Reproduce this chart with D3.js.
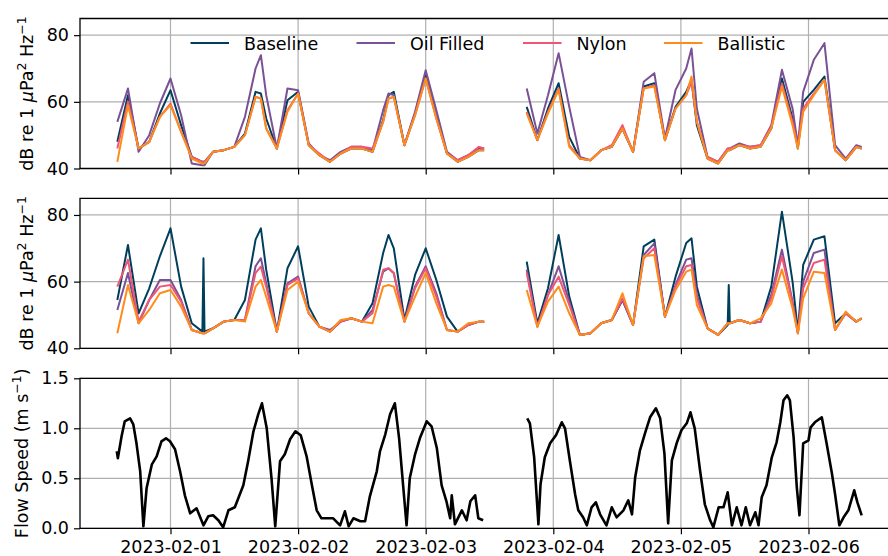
<!DOCTYPE html>
<html>
<head>
<meta charset="utf-8">
<script src="https://cdn.jsdelivr.net/npm/d3@7"></script>
<style>
body { margin: 0; background: #fff; }
svg { display: block; }
text { font-family: "DejaVu Sans", sans-serif; fill: #000; }
</style>
</head>
<body>
<script>
(function(){
'use strict';

// tick labels
var dayTicks = ['2023-02-01', '2023-02-02', '2023-02-03', '2023-02-04', '2023-02-05', '2023-02-06'];
var dbTicks = [40, 60, 80];
var flowTicks = [0, 0.5, 1.0, 1.5];

var seriesNames = ['Baseline', 'Oil Filled', 'Nylon', 'Ballistic'];

// hours after 2023-02-01 00:00 (null row = recording gap)
var dbHours = [-10, -8, -6, -4, -2, 0, 2, 4, 6, 6.2, 6.4, 8, 10, 12, 14, 16, 17, 18, 20, 22, 24, 26, 28, 30, 32, 34, 36, 38, 40, 41, 42, 44, 46, 48, 50, 52, 54, 56, 58, 59,
	63,
	67, 69, 71, 73, 75, 77, 79, 81, 83, 85, 87, 89, 91, 93, 95, 97, 98, 99, 101, 103, 104.8, 105, 105.2, 107, 109, 111, 113, 115, 117, 118, 119, 121, 123, 125, 127, 129, 130];

// top panel (dB re 1 uPa^2/Hz)
var baseTop = [48, 62, 46, 48, 56.5, 63.5, 53, 43.5, 42, 42, 42, 45, 45.5, 46.5, 50.5, 63, 62.5, 55, 46, 60.5, 63, 47, 44, 42, 44.5, 46, 46, 45, 54.5, 62, 63, 47, 56.5, 68, 55.5, 44.5, 42, 43.5, 45.5, 45.5,
	null,
	58.5, 48.5, 58, 65.6, 49.5, 43, 42.5, 45.5, 46.5, 52, 45, 64.6, 65.6, 48.5, 58.5, 63, 66.6, 53, 43, 41.5, 45.5, 45.5, 45.5, 47, 46, 46.5, 52, 67, 55, 46, 60, 63.6, 67.6, 45.5, 42.5, 46.5, 46];
var oilTop = [54, 64, 45, 50, 59.5, 67, 56, 41.5, 41, 41, 41, 45, 45.5, 46.5, 55.5, 70, 74, 62, 46, 64, 63.5, 47.5, 44, 42.5, 45, 46.5, 46.5, 45.5, 57.5, 62.5, 62, 47, 57, 69.5, 57.5, 45, 42.5, 44, 46, 46,
	null,
	64, 50.5, 62, 74.6, 58.5, 43.5, 42.5, 45.5, 46.5, 52, 45, 66, 68.6, 49, 63.6, 70, 76, 58, 43.5, 42, 46, 46, 46, 47.5, 46.5, 47, 53, 69.6, 58, 47, 63, 72.6, 77.6, 47, 43, 47, 46.5];
var nylonTop = [46, 60, 46, 48, 55.5, 59.5, 51, 43.5, 42, 42, 42, 45, 45.5, 46.5, 50, 61.5, 61, 52, 46, 57.5, 62.5, 47, 44.5, 42, 44.5, 46.5, 46.5, 46, 54, 61, 61.5, 47, 56, 67, 55, 44.5, 42.5, 44, 46.5, 46,
	null,
	57, 48.5, 57, 64, 47, 43, 42.5, 45.5, 47, 53, 45, 64, 65, 48.5, 58, 62, 66, 54, 43.5, 42, 46, 46, 46, 47, 46.5, 47, 52.5, 65.5, 54, 46.5, 58, 62.5, 66.5, 45.5, 42.5, 46.5, 46];
var ballTop = [42, 59, 46, 48, 55.5, 59, 51, 43, 41.5, 41.5, 41.5, 45, 45.5, 46.5, 50, 61.5, 61, 52, 46, 57, 62.5, 47, 44, 42, 44.5, 46, 46, 45, 54, 61, 61.5, 47, 56, 67, 55, 44.5, 42, 43.5, 45.5, 45.5,
	null,
	56.5, 48.5, 56.5, 63.6, 46.5, 43, 42.5, 45.5, 46.5, 52, 45, 64, 64.6, 48.5, 58, 62, 67.6, 54, 43, 41.5, 45.5, 45.5, 45.5, 47, 46, 46.5, 52, 64.6, 53, 46, 57, 62, 66.6, 45.5, 42.5, 46.5, 46];

// middle panel
var baseMid = [54.5, 71, 50.5, 58, 67.6, 76, 58.5, 47.5, 45, 67, 45, 46, 48, 48.5, 54.5, 72.6, 76, 63.6, 45, 64, 70.6, 52.5, 46.5, 45, 48, 49, 48, 53.5, 68.6, 74, 70, 48.5, 62, 70, 60.5, 49.5, 45, 47, 48, 48,
	null,
	66, 47.5, 58, 74, 55.5, 44, 44.5, 47.5, 48.5, 54.5, 47, 70.6, 72.6, 49.5, 61.5, 71.6, 73, 58.5, 46, 44, 47, 59, 47.5, 48.5, 47.5, 48, 58.5, 81, 60, 45, 65, 72.6, 73.6, 47.5, 50.5, 48, 49];
var oilMid = [51.5, 62.6, 47.5, 54.5, 60.5, 60.5, 54.5, 45.5, 44.5, 44.5, 44.5, 46, 48, 48.5, 48.5, 64.6, 67, 59.5, 45, 59.5, 61.5, 50.5, 46.5, 45.5, 48, 49, 48, 51.5, 63, 64, 62.5, 48, 58.5, 64.6, 56.5, 45.5, 45, 47, 48, 48,
	null,
	63.6, 46.5, 56, 64.6, 54, 44, 44.5, 47.5, 48.5, 54.5, 47, 68, 71.5, 49.5, 59, 66.6, 67, 56, 46, 44, 47.5, 47.5, 47.5, 48.5, 47.5, 48, 56, 69.6, 54, 44.5, 60, 68.6, 69.6, 45.5, 50.5, 48, 49];
var nylonMid = [58.5, 66.6, 48, 54.5, 58.5, 59, 54, 45.5, 44.5, 44.5, 44.5, 46, 48, 48.5, 48.5, 62.6, 64.5, 58.5, 45, 59, 61, 50.5, 46.5, 45, 48, 49, 48, 50.5, 63.6, 64, 62.6, 48, 58, 64, 55.5, 45.5, 45, 47, 48, 48,
	null,
	62.6, 46.5, 56, 61.5, 53, 44, 44.5, 47.5, 48.5, 55, 47, 67, 70, 49.5, 58.5, 64.6, 65, 55, 46, 44, 47.5, 47.5, 47.5, 48.5, 47.5, 48, 55, 67.6, 53.5, 44.5, 58, 65.6, 66.6, 45.5, 50.5, 48, 49];
var ballMid = [44.5, 59, 47.5, 51.5, 56.5, 57.5, 52.5, 45.5, 44.5, 44.5, 44.5, 46, 48, 48.5, 48, 58.5, 60.5, 55.5, 45, 57.5, 60, 50.5, 46.5, 45, 48.5, 49, 48, 47.5, 58.5, 59, 58.5, 48, 55.5, 62.6, 53.5, 45.5, 45, 47.5, 48, 48,
	null,
	57.5, 46.5, 54, 58.5, 50.5, 44, 44.5, 47.5, 48.5, 56.5, 47, 67.6, 68, 49.5, 57.5, 63, 63.6, 53, 46, 44, 47.5, 47.5, 47.5, 48.5, 47.5, 49, 53.5, 63.6, 52, 44.5, 55, 63, 62.6, 45.5, 51, 48, 49];

// bottom panel, flow speed (m/s)
var flowHours = [-10.1, -9.9, -9.2, -8.6, -7.6, -7.0, -6.4, -5.7, -5.1, -4.5, -3.5, -2.6, -1.7, -0.85, -0.1, 0.85, 1.8, 2.7, 3.7, 4.9, 6.2, 7.1, 8.0, 9.0, 9.9, 10.9, 12.1, 13.7, 14.6, 15.6, 16.5, 17.2, 18.1, 19.0, 19.7,
	20.6, 21.5, 22.5, 23.5, 24.5, 25.6, 26.6, 27.5, 28.4, 29.4, 30.6, 31.9, 32.8, 33.5, 34.4, 35.7, 36.6, 37.5, 38.8, 39.4, 40.4, 41.3, 42.2, 43.0, 43.8, 44.4, 45.0, 46.0, 46.9, 48.2, 49.1, 50.1, 51.0, 51.9, 52.6, 52.9, 53.5, 54.8, 55.7, 56.4, 57.3, 57.9, 58.8,
	63,
	67.1, 67.6, 68.4, 69.2, 69.6, 70.4, 71.4, 72.5, 73.6, 74.2, 75.1, 76.1, 76.7, 77.6, 78.3, 79.2, 80.0, 80.8, 82.0, 83.0, 83.9, 85.2, 86.1, 86.8, 87.4, 88.3, 89.3, 90.2, 91.3, 92.1, 92.9, 93.6, 94.3, 95.2, 96.1, 97.1, 97.8, 98.6, 99.6,
	100.5, 101.5, 102.1, 103.1, 104.0, 104.8, 105.6, 106.5, 107.4, 108.2, 109.0, 110.0, 110.6, 111.2, 112.1, 113.1, 114.0, 114.7, 115.3, 116.0, 116.5, 117.2, 117.8, 118.3, 119.0, 120.0, 120.4, 121.2, 122.5, 123.4, 124.4, 125.0, 125.8, 126.6, 127.5, 128.6, 129.2, 130.0];
var flowSpeed = [0.77, 0.70, 0.92, 1.07, 1.10, 1.04, 0.85, 0.57, 0.02, 0.40, 0.64, 0.72, 0.87, 0.90, 0.87, 0.79, 0.57, 0.33, 0.15, 0.20, 0.03, 0.12, 0.13, 0.08, 0.01, 0.18, 0.21, 0.43, 0.67, 0.97, 1.14, 1.25, 1.00, 0.50, 0.02,
	0.67, 0.74, 0.89, 0.97, 0.93, 0.72, 0.43, 0.18, 0.10, 0.10, 0.10, 0.03, 0.17, 0.02, 0.10, 0.07, 0.07, 0.32, 0.57, 0.77, 0.94, 1.14, 1.25, 0.90, 0.40, 0.03, 0.50, 0.74, 0.90, 1.07, 1.02, 0.80, 0.43, 0.27, 0.10, 0.33, 0.04, 0.18, 0.08, 0.27, 0.33, 0.10, 0.08,
	null,
	1.10, 1.05, 0.71, 0.04, 0.44, 0.71, 0.85, 0.93, 1.06, 1.00, 0.68, 0.34, 0.18, 0.11, 0.03, 0.21, 0.26, 0.14, 0.03, 0.21, 0.11, 0.18, 0.28, 0.14, 0.51, 0.78, 0.96, 1.11, 1.20, 1.10, 0.75, 0.05, 0.68, 0.85, 0.98, 1.05, 1.16, 1.00, 0.58,
	0.24, 0.08, 0.01, 0.21, 0.21, 0.36, 0.03, 0.21, 0.03, 0.21, 0.03, 0.16, 0.03, 0.31, 0.43, 0.71, 0.86, 1.06, 1.28, 1.33, 1.28, 0.91, 0.41, 0.13, 0.85, 0.88, 1.01, 1.06, 1.11, 0.85, 0.55, 0.34, 0.03, 0.11, 0.18, 0.38, 0.26, 0.13];

var colors = ['#003f5c', '#7a5195', '#ef5675', '#ff8c1a'];

var width = 888, height = 556;
var left = 80, right = 892;
var panelH = 150;
var tops = [18.5, 198.3, 378.3];

var t0 = Date.UTC(2023, 1, 1);
var dayMs = 864e5;
function toDate(h){ return new Date(t0 + h * 3600e3); }

var parseDay = d3.utcParse('%Y-%m-%d');
var fmtDay = d3.utcFormat('%Y-%m-%d');

var x = d3.scaleUtc()
	.domain([new Date(t0 - 90.5 / 127.6 * dayMs), new Date(t0 + (right - 170.5) / 127.6 * dayMs)])
	.range([left, right]);

var svg = d3.select('body').append('svg')
	.attr('width', width)
	.attr('height', height);

function pairs(hours, vals){
	var out = [];
	for(var i=0; i<hours.length; i++){
		out.push([toDate(hours[i]), vals[i]]);
	}
	return out;
}

function drawPanel(idx, y, ticks, fmt, series, lineW, showDates){
	var top = tops[idx];
	var bottom = top + panelH;
	var g = svg.append('g');

	svg.append('clipPath').attr('id', 'clip' + idx)
		.append('rect')
		.attr('x', left).attr('y', top)
		.attr('width', right - left).attr('height', panelH);

	// grid
	g.selectAll('.hgrid').data(ticks).enter().append('line')
		.attr('x1', left).attr('x2', right)
		.attr('y1', function(d){ return y(d); })
		.attr('y2', function(d){ return y(d); })
		.attr('stroke', '#b0b0b0').attr('stroke-width', 1.2);
	g.selectAll('.vgrid').data(dayTicks).enter().append('line')
		.attr('x1', function(d){ return x(parseDay(d)); })
		.attr('x2', function(d){ return x(parseDay(d)); })
		.attr('y1', top).attr('y2', bottom)
		.attr('stroke', '#b0b0b0').attr('stroke-width', 1.2);

	var line = d3.line()
		.defined(function(d){ return d[1] !== null; })
		.x(function(d){ return x(d[0]); })
		.y(function(d){ return y(d[1]); });

	var lg = g.append('g').attr('clip-path', 'url(#clip' + idx + ')');
	series.forEach(function(s){
		lg.append('path')
			.datum(s.data)
			.attr('d', line)
			.attr('fill', 'none')
			.attr('stroke', s.color)
			.attr('stroke-width', lineW)
			.attr('stroke-linejoin', 'round');
	});

	// y axis
	var ya = d3.axisLeft(y).tickValues(ticks).tickFormat(fmt).tickSize(6).tickPadding(5);
	var yg = svg.append('g').attr('transform', 'translate(' + left + ',0)').call(ya);
	yg.select('.domain').remove();
	yg.selectAll('text').attr('font-size', '17.5px').attr('font-family', '"DejaVu Sans", sans-serif');
	yg.selectAll('line').attr('stroke-width', 1.2);

	// x axis
	var xa = d3.axisBottom(x).tickValues(dayTicks.map(parseDay)).tickFormat(showDates ? fmtDay : '').tickSize(6).tickPadding(6);
	var xg = svg.append('g').attr('transform', 'translate(0,' + bottom + ')').call(xa);
	xg.select('.domain').remove();
	xg.selectAll('text').attr('font-size', '17.5px').attr('font-family', '"DejaVu Sans", sans-serif');
	xg.selectAll('line').attr('stroke-width', 1.2);

	// spines
	svg.append('path')
		.attr('d', 'M' + right + ',' + top + 'H' + left + 'V' + bottom + 'H' + right)
		.attr('fill', 'none').attr('stroke', '#000').attr('stroke-width', 1.3);
}

var yTop = d3.scaleLinear().domain([40, 85]).range([tops[0] + panelH, tops[0]]);
var yMid = d3.scaleLinear().domain([40, 85]).range([tops[1] + panelH, tops[1]]);
var yFlow = d3.scaleLinear().domain([0, 1.5]).range([tops[2] + panelH, tops[2]]);

var topVals = [baseTop, oilTop, nylonTop, ballTop];
var midVals = [baseMid, oilMid, nylonMid, ballMid];

drawPanel(0, yTop, dbTicks, d3.format('d'), topVals.map(function(v, i){
	return {data: pairs(dbHours, v), color: colors[i]};
}), 2, false);
drawPanel(1, yMid, dbTicks, d3.format('d'), midVals.map(function(v, i){
	return {data: pairs(dbHours, v), color: colors[i]};
}), 2, false);
drawPanel(2, yFlow, flowTicks, d3.format('.1f'), [{data: pairs(flowHours, flowSpeed), color: '#000'}], 2.6, true);

// legend
var legX = [190.5, 356.5, 523, 664];
var leg = svg.append('g');
seriesNames.forEach(function(name, i){
	leg.append('line')
		.attr('x1', legX[i]).attr('x2', legX[i] + 38.5)
		.attr('y1', 43).attr('y2', 43)
		.attr('stroke', colors[i]).attr('stroke-width', 2);
	leg.append('text')
		.attr('x', legX[i] + 53.5).attr('y', 49.5)
		.attr('font-size', '17.5px')
		.text(name);
});

// y labels
function dbLabel(cy){
	var t = svg.append('text')
		.attr('transform', 'translate(32.5,' + cy + ') rotate(-90)')
		.attr('text-anchor', 'middle')
		.attr('font-size', '17.5px');
	t.append('tspan').text('dB re 1 ');
	t.append('tspan').attr('font-style', 'italic').text('\u03bc');
	t.append('tspan').text('Pa');
	t.append('tspan').attr('font-size', '12.5px').attr('dy', -7).text('2');
	t.append('tspan').attr('dy', 7).text(' Hz');
	t.append('tspan').attr('font-size', '12.5px').attr('dy', -7).text('\u22121');
}
dbLabel(tops[0] + panelH / 2);
dbLabel(tops[1] + panelH / 2);

var fl = svg.append('text')
	.attr('transform', 'translate(28,' + (tops[2] + panelH / 2) + ') rotate(-90)')
	.attr('text-anchor', 'middle')
	.attr('font-size', '17.5px');
fl.append('tspan').text('Flow Speed (m s');
fl.append('tspan').attr('font-size', '12.5px').attr('dy', -7).text('\u22121');
fl.append('tspan').attr('dy', 7).text(')');

})();
</script>
</body>
</html>
